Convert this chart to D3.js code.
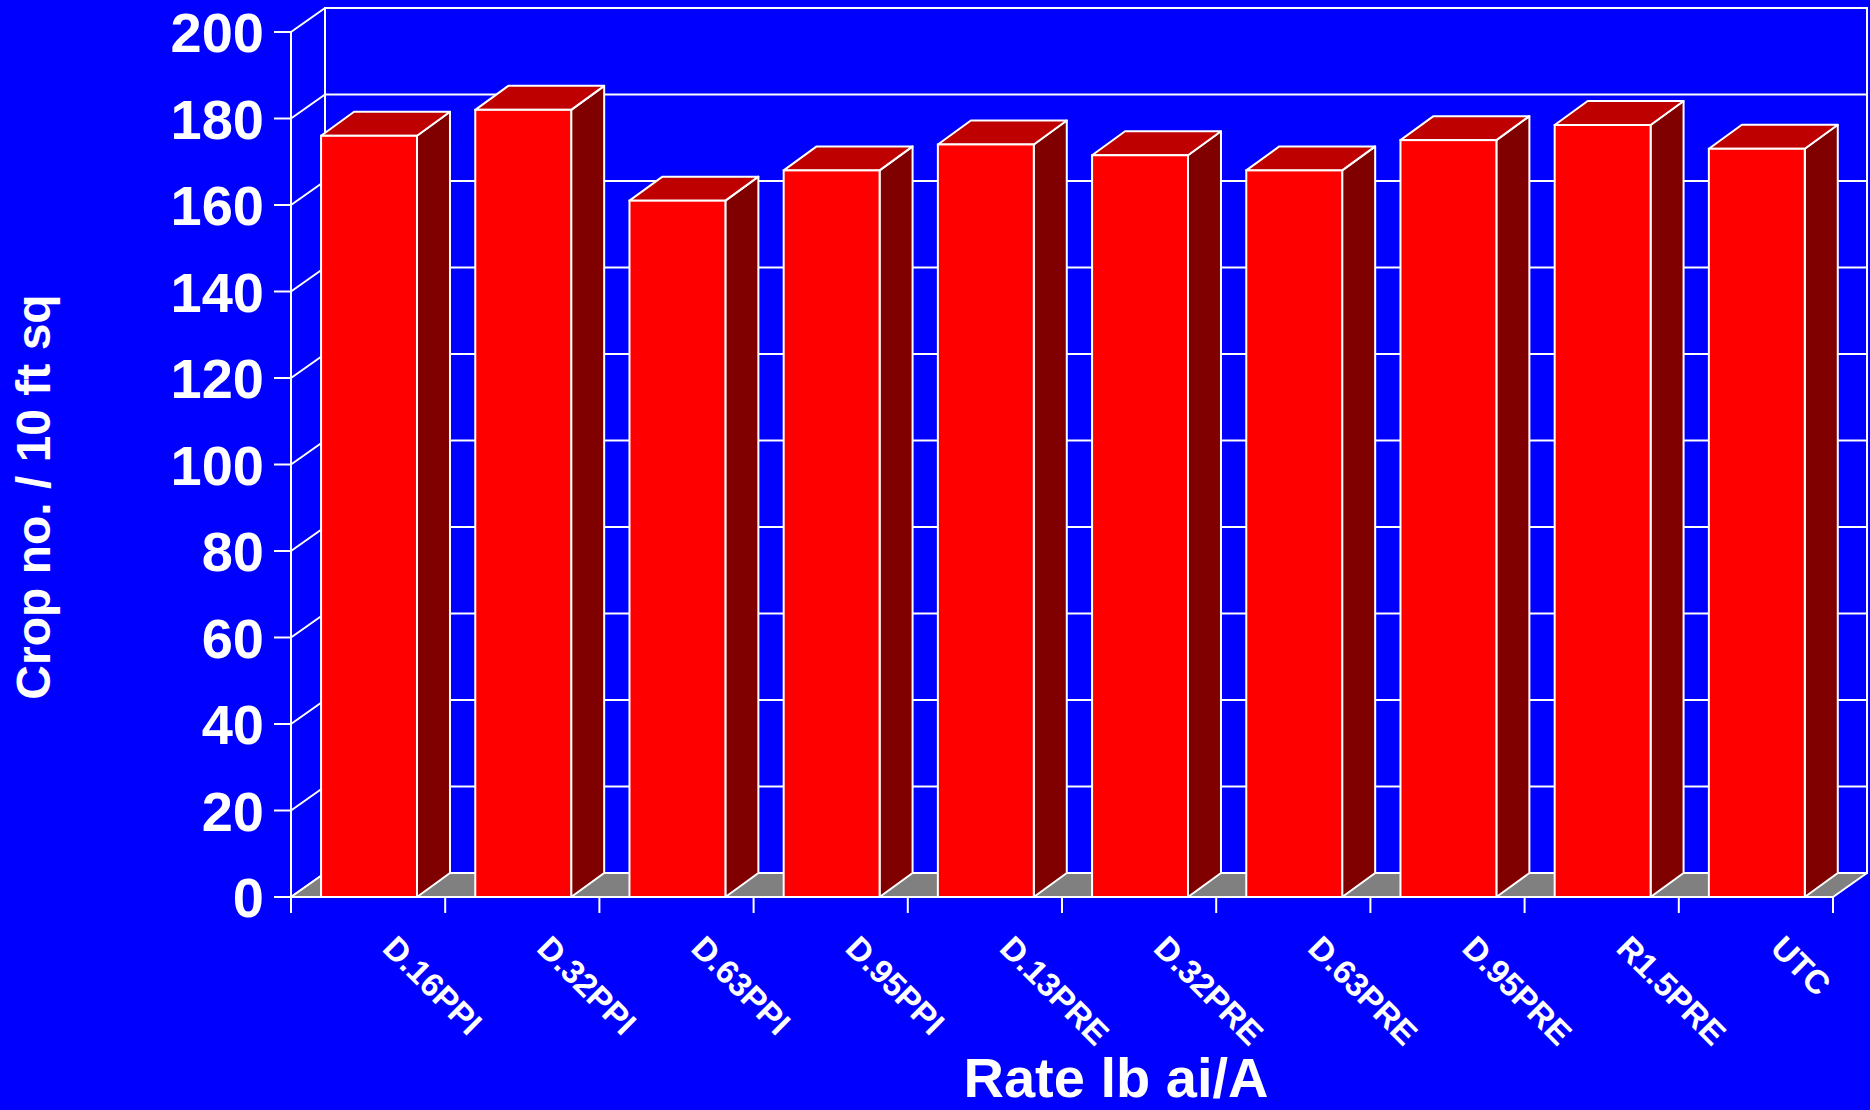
<!DOCTYPE html>
<html>
<head>
<meta charset="utf-8">
<script src="https://cdn.jsdelivr.net/npm/d3@7"></script>
<style>
  html, body { margin: 0; padding: 0; background: #0000FF; }
  svg { display: block; }
  text { font-family: "Liberation Sans", Arial, sans-serif; font-weight: bold; fill: #FFFFFF; }
</style>
</head>
<body>
<script>
// ---- data ----
const categories = ["D.16PPI", "D.32PPI", "D.63PPI", "D.95PPI", "D.13PRE", "D.32PRE", "D.63PRE", "D.95PRE", "R1.5PRE", "UTC"];
const cropCounts = [176, 182, 161, 168, 174, 171.5, 168, 175, 178.5, 173];
const yTicks = [0, 20, 40, 60, 80, 100, 120, 140, 160, 180, 200];
const yTitle = "Crop no. / 10 ft sq";
const xTitle = "Rate lb ai/A";

// ---- layout ----
const W = 1870, H = 1110;
const x0 = 291, x1 = 1833, yBottom = 897, yTop = 32;
const wallDx = 34, wallDy = 24;   // depth of back wall
const barDx = 33, barDy = 24;     // depth of bars

const svg = d3.select("body").append("svg").attr("width", W).attr("height", H);
svg.append("rect").attr("width", W).attr("height", H).attr("fill", "#0000FF");

const x = d3.scaleBand().domain(categories).range([x0, x1]).padding(0);
const y = d3.scaleLinear().domain([0, 200]).range([yBottom, yTop]);

const line = "#FFFFFF", lw = 2;

// back wall outline
svg.append("rect")
  .attr("x", x0 + wallDx).attr("y", y(200) - wallDy)
  .attr("width", x1 - x0).attr("height", y(0) - y(200))
  .attr("fill", "none").attr("stroke", line).attr("stroke-width", lw);

// gridlines on back wall + left wall diagonals
const grid = svg.append("g");
yTicks.forEach(t => {
  grid.append("line")
    .attr("x1", x0 + wallDx).attr("x2", x1 + wallDx)
    .attr("y1", y(t) - wallDy).attr("y2", y(t) - wallDy)
    .attr("stroke", line).attr("stroke-width", lw);
  grid.append("line")
    .attr("x1", x0).attr("y1", y(t))
    .attr("x2", x0 + wallDx).attr("y2", y(t) - wallDy)
    .attr("stroke", line).attr("stroke-width", lw);
});

// floor
svg.append("polygon")
  .attr("points", [[x0, y(0)], [x1, y(0)], [x1 + wallDx, y(0) - wallDy], [x0 + wallDx, y(0) - wallDy]].map(p => p.join(",")).join(" "))
  .attr("fill", "#808080").attr("stroke", line).attr("stroke-width", lw).attr("stroke-linejoin", "round");

// bars
const bw = x.bandwidth() * 0.622;
const off = x.bandwidth() * 0.195;
const bars = svg.append("g").selectAll("g").data(categories.map((c, i) => ({c, v: cropCounts[i]}))).join("g");
bars.each(function(d) {
  const g = d3.select(this);
  const bx = x(d.c) + off, yv = y(d.v), yb = y(0);
  const pts = a => a.map(p => p.join(",")).join(" ");
  // side
  g.append("polygon")
    .attr("points", pts([[bx + bw, yv], [bx + bw + barDx, yv - barDy], [bx + bw + barDx, yb - barDy], [bx + bw, yb]]))
    .attr("fill", "#800000").attr("stroke", line).attr("stroke-width", lw).attr("stroke-linejoin", "round");
  // top
  g.append("polygon")
    .attr("points", pts([[bx, yv], [bx + barDx, yv - barDy], [bx + bw + barDx, yv - barDy], [bx + bw, yv]]))
    .attr("fill", "#BF0000").attr("stroke", line).attr("stroke-width", lw).attr("stroke-linejoin", "round");
  // front
  g.append("rect")
    .attr("x", bx).attr("y", yv).attr("width", bw).attr("height", yb - yv)
    .attr("fill", "#FF0000").attr("stroke", line).attr("stroke-width", lw);
});

// y axis
const yAxis = svg.append("g");
yAxis.append("line").attr("x1", x0).attr("x2", x0).attr("y1", y(200)).attr("y2", y(0) + 16)
  .attr("stroke", line).attr("stroke-width", lw);
yTicks.forEach(t => {
  yAxis.append("line").attr("x1", x0 - 17).attr("x2", x0).attr("y1", y(t)).attr("y2", y(t))
    .attr("stroke", line).attr("stroke-width", lw);
  yAxis.append("text").attr("x", 264).attr("y", y(t) + 20)
    .attr("text-anchor", "end").attr("font-size", 56).text(t);
});

// x axis
const xAxis = svg.append("g");
xAxis.append("line").attr("x1", x0).attr("x2", x1).attr("y1", y(0)).attr("y2", y(0))
  .attr("stroke", line).attr("stroke-width", lw);
const bounds = categories.map(c => x(c)).concat([x1]);
bounds.forEach(bx => {
  xAxis.append("line").attr("x1", bx).attr("x2", bx).attr("y1", y(0)).attr("y2", y(0) + 16)
    .attr("stroke", line).attr("stroke-width", lw);
});
categories.forEach(c => {
  const cx = x(c) + x.bandwidth() / 2 + 13, cy = 950;
  xAxis.append("text")
    .attr("transform", `translate(${cx},${cy}) rotate(45)`)
    .attr("text-anchor", "start").attr("font-size", 33).text(c);
});

// titles
svg.append("text").attr("x", 1116).attr("y", 1097).attr("text-anchor", "middle")
  .attr("font-size", 56).text(xTitle);
svg.append("text").attr("transform", "translate(50,497) rotate(-90)")
  .attr("text-anchor", "middle").attr("font-size", 48).text(yTitle);
</script>
</body>
</html>
